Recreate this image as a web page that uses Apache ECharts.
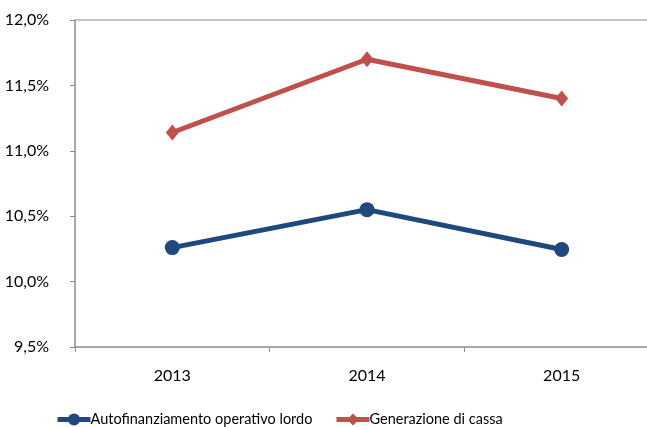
<!DOCTYPE html>
<html>
<head>
<meta charset="utf-8">
<script src="https://cdn.jsdelivr.net/npm/echarts@6/dist/echarts.min.js"></script>
<style>
  html, body { margin: 0; padding: 0; background: #fff; overflow: hidden; }
</style>
</head>
<body>
<div id="main" style="width: 672px;height:427px;"></div>
<script>
var years = ['2013', '2014', '2015']
var autofinanziamento = [10.26, 10.55, 10.245]
var generazioneCassa = [11.14, 11.70, 11.40]
var yMin = 9.5
var yMax = 12.0
var yStep = 0.5

var chartDom = document.getElementById('main')
var myChart = echarts.init(chartDom)
var font = 'Lato, "Open Sans", sans-serif'
var blue = '#1f497d'
var red = '#c0504d'

// plot area runs past the right edge of the picture, like the original
var option = {
  backgroundColor: '#ffffff',
  animation: false,
  textStyle: { fontFamily: font },
  grid: {
    left: 75,
    top: 20,
    right: 13,
    bottom: 80
  },
  legend: [{
    top: 412,
    left: 55,
    padding: 0,
    itemWidth: 33,
    itemHeight: 15,
    lineStyle: { width: 5 },
    textStyle: { color: '#000', fontSize: 14.5, fontFamily: font, padding: [0, 0, 0, -5] },
    data: ['Autofinanziamento operativo lordo']
  }, {
    top: 412,
    left: 334,
    padding: 0,
    itemWidth: 33,
    itemHeight: 15,
    lineStyle: { width: 5 },
    textStyle: { color: '#000', fontSize: 14.5, fontFamily: font, padding: [0, 0, 0, -5] },
    data: ['Generazione di cassa']
  }],
  xAxis: [{
    type: 'category',
    data: years,
    boundaryGap: true,
    axisLine: { lineStyle: { color: '#8c8c8c', width: 1.5 } },
    axisTick: { show: true, length: 5, lineStyle: { color: '#8c8c8c' } },
    axisLabel: { color: '#000', fontSize: 16, margin: 21 },
    splitLine: { show: false }
  }, {
    type: 'category',
    position: 'top',
    data: years,
    axisLine: { show: true, lineStyle: { color: '#b0b0b0', width: 1.5 } },
    axisTick: { show: false },
    axisLabel: { show: false }
  }],
  yAxis: [{
    type: 'value',
    min: yMin,
    max: yMax,
    interval: yStep,
    axisLine: { show: true, lineStyle: { color: '#8c8c8c', width: 1.5 } },
    axisTick: { show: true, length: 5, inside: false, lineStyle: { color: '#8c8c8c' } },
    splitLine: { show: false },
    axisLabel: {
      color: '#000',
      fontSize: 16,
      margin: 26,
      formatter: function (v) {
        return v.toFixed(1).replace('.', ',') + '%'
      }
    }
  }],
  series: [{
    name: 'Autofinanziamento operativo lordo',
    type: 'line',
    symbol: 'circle',
    symbolSize: 15,
    lineStyle: { width: 5, color: blue },
    itemStyle: { color: blue },
    data: autofinanziamento
  }, {
    name: 'Generazione di cassa',
    type: 'line',
    symbol: 'diamond',
    symbolSize: [13, 16],
    lineStyle: { width: 5, color: red },
    itemStyle: { color: red },
    data: generazioneCassa
  }]
}
option && myChart.setOption(option)
</script>
</body>
</html>
